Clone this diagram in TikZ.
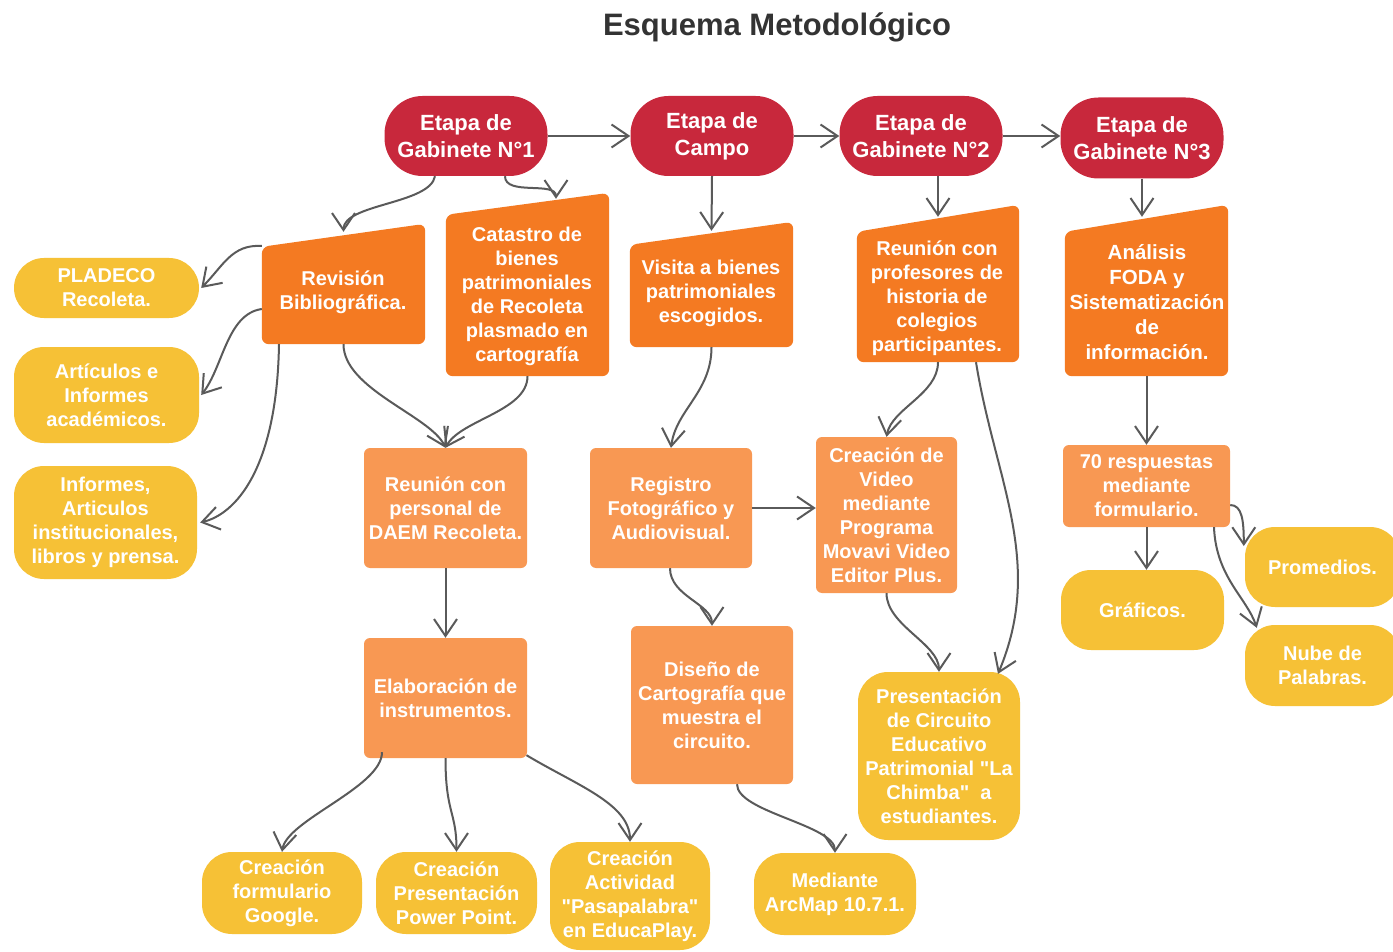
\documentclass[tikz,border=0pt]{standalone}
\usepackage{fontspec}
\setmainfont{Liberation Sans}[Ligatures=TeXOff]
\usetikzlibrary{arrows.meta,calc}
\definecolor{cred}{HTML}{C8283C}
\definecolor{corange}{HTML}{F47A22}
\definecolor{clight}{HTML}{F89853}
\definecolor{cyellow}{HTML}{F6C136}
\definecolor{cline}{HTML}{5A5A5A}
\definecolor{ctitle}{HTML}{333333}
\begin{document}
\begin{tikzpicture}[x=1pt,y=-1pt,
  txt/.style={text=white, font=\fontsize{20}{24}\selectfont\bfseries, align=center, inner sep=0pt},
  stage/.style={txt, fill=cred, rounded corners=38pt, minimum width=163pt, minimum height=80pt, font=\fontsize{22}{27}\selectfont\bfseries},
  trapbox/.style={inner sep=0pt, draw=none},
  trapfill/.style={fill=corange, rounded corners=7pt},
  lobox/.style={txt, fill=clight, rounded corners=6pt},
  ybox/.style={txt, fill=cyellow, rounded corners=30pt},
  conn/.style={draw=cline, line width=2pt, -{Straight Barb[length=17pt,width=23pt]}},
]
\fill[white] (0,0) rectangle (1393,952);
\useasboundingbox (0,0) rectangle (1393,952);

\node[font=\fontsize{31}{37}\selectfont\bfseries, text=ctitle] (title) at (777,27) {Esquema Metodológico};

% stages
\node[stage] (e1) at (466,136) {Etapa de\\Gabinete N°1};
\node[stage] (e2) at (712,136) {Etapa de\\Campo};
\node[stage] (e3) at (921,136) {Etapa de\\Gabinete N°2};
\node[stage, minimum height=81pt] (e4) at (1142,138) {Etapa de\\Gabinete N°3};

% trapezoid nodes
\node[trapbox, minimum width=163pt, minimum height=120pt] (rev) at (343.5,284) {};
\fill[trapfill] (rev.south west) -- ([yshift=-23pt]rev.north west) -- (rev.north east) -- (rev.south east) -- cycle;
\node[txt] (revt) at (343,292) {Revisión\\Bibliográfica.};

\node[trapbox, minimum width=163pt, minimum height=183pt] (cat) at (527.5,284.5) {};
\fill[trapfill] (cat.south west) -- ([yshift=-22pt]cat.north west) -- (cat.north east) -- (cat.south east) -- cycle;
\node[txt] (catt) at (527,296) {Catastro de\\bienes\\patrimoniales\\de Recoleta\\plasmado en\\cartografía};

\node[trapbox, minimum width=163pt, minimum height=125pt] (vis) at (711.5,284.5) {};
\fill[trapfill] (vis.south west) -- ([yshift=-23pt]vis.north west) -- (vis.north east) -- (vis.south east) -- cycle;
\node[txt] (vist) at (711,293) {Visita a bienes\\patrimoniales\\escogidos.};

\node[trapbox, minimum width=162pt, minimum height=157pt] (rpr) at (938,283.5) {};
\fill[trapfill] (rpr.south west) -- ([yshift=-27pt]rpr.north west) -- (rpr.north east) -- (rpr.south east) -- cycle;
\node[txt] (rprt) at (937,298) {Reunión con\\profesores de\\historia de\\colegios\\participantes.};

\node[trapbox, minimum width=163pt, minimum height=171pt] (ana) at (1146.5,290.5) {};
\fill[trapfill] (ana.south west) -- ([yshift=-27pt]ana.north west) -- (ana.north east) -- (ana.south east) -- cycle;
\node[txt, font=\fontsize{20.5}{25}\selectfont\bfseries] (anat) at (1147,302) {Análisis\\FODA y\\Sistematización\\de\\información.};

% light orange boxes
\node[lobox, minimum width=163pt, minimum height=120pt] (daem) at (445.5,508) {Reunión con\\personal de\\DAEM Recoleta.};
\node[lobox, minimum width=162pt, minimum height=120pt] (reg) at (671,508) {Registro\\Fotográfico y\\Audiovisual.};
\node[lobox, minimum width=141pt, minimum height=156pt] (vid) at (886.5,515) {Creación de\\Video\\mediante\\Programa\\Movavi Video\\Editor Plus.};
\node[lobox, minimum width=163pt, minimum height=120pt] (ela) at (445.5,698) {Elaboración de\\instrumentos.};
\node[lobox, minimum width=162pt, minimum height=158pt] (dis) at (712,705) {Diseño de\\Cartografía que\\muestra el\\circuito.};
\node[lobox, minimum width=167pt, minimum height=82pt] (r70) at (1146.5,486) {70 respuestas\\mediante\\formulario.};

% yellow nodes
\node[ybox, minimum width=185pt, minimum height=60pt] (pla) at (106.5,288) {PLADECO\\Recoleta.};
\node[ybox, minimum width=185pt, minimum height=96pt] (art) at (106.5,395) {Artículos e\\Informes\\académicos.};
\node[ybox, minimum width=183pt, minimum height=113pt] (inf) at (105.5,522.5) {Informes,\\Articulos\\institucionales,\\libros y prensa.};
\node[ybox, minimum width=160pt, minimum height=82pt] (cfg) at (282,893) {Creación\\formulario\\Google.};
\node[ybox, minimum width=161pt, minimum height=82pt] (cpp) at (456.5,893) {Creación\\Presentación\\Power Point.};
\node[ybox, minimum width=160pt, minimum height=108pt] (cae) at (630,896) {Creación\\Actividad\\"Pasapalabra"\\en EducaPlay.};
\node[ybox, minimum width=162pt, minimum height=82pt] (arc) at (835,894) {Mediante\\ArcMap 10.7.1.};
\node[ybox, minimum width=162pt, minimum height=168pt] (pre) at (939,756) {Presentación\\de Circuito\\Educativo\\Patrimonial "La\\Chimba"\ \ a\\estudiantes.};
\node[ybox, minimum width=163pt, minimum height=80pt] (gra) at (1142.5,610) {Gráficos.};
\node[ybox, minimum width=155pt, minimum height=80pt] (prm) at (1322.5,567) {Promedios.};
\node[ybox, minimum width=155pt, minimum height=81pt] (nub) at (1322.5,665.5) {Nube de\\Palabras.};

% connectors
\draw[conn] (e1.east) -- (e2.west);
\draw[conn] (e2.east) -- (e3.west);
\draw[conn] (e3.east) -- (e3.east -| e4.west);
\draw[conn] ([xshift=-31pt]e1.south) .. controls +(-5,28) and +(0,-28) .. ([yshift=-8pt]rev.north);
\draw[conn] ([xshift=39pt]e1.south) .. controls +(0,20) and +(0,-18) .. ([xshift=28.5pt,yshift=-6pt]cat.north);
\draw[conn] (e2.south) -- ([yshift=-9pt]vis.north);
\draw[conn] ([xshift=17pt]e3.south) -- ([yshift=-12pt]rpr.north);
\draw[conn] (e4.south) -- ([xshift=-4.5pt,yshift=-12pt]ana.north);

\draw[conn] ([yshift=38pt]rev.west) .. controls +(-30,-2) and +(22,-22) .. ([xshift=2pt]pla.east);
\draw[conn] ([yshift=-25pt]rev.west) .. controls +(-35,5) and +(22,-28) .. ([xshift=2pt]art.east);
\draw[conn] ([xshift=-64.5pt]rev.south) .. controls +(-2,125) and +(35,-8) .. ([xshift=3pt]inf.east);
\draw[conn] (rev.south) .. controls +(0,45) and +(-15,-32) .. (daem.north);
\draw[conn] (cat.south) .. controls +(0,35) and +(15,-28) .. (daem.north);
\draw[conn] (vis.south) .. controls +(0,45) and +(5,-38) .. (reg.north);
\draw[conn] (rpr.south) .. controls +(0,32) and +(5,-28) .. (vid.north);
\draw[conn] ([xshift=38pt]rpr.south) .. controls +(19,118) and +(47,-112) .. ([xshift=59pt,yshift=-2pt]pre.north);
\draw[conn] (reg.east) -- (reg.east -| vid.west);
\draw[conn] ([xshift=-1pt]reg.south) .. controls +(0,28) and +(0,-22) .. (dis.north);
\draw[conn] (vid.south) .. controls +(0,32) and +(0,-28) .. (pre.north);
\draw[conn] (daem.south) -- (ela.north);
\draw[conn] ([xshift=-63.5pt,yshift=6pt]ela.south) .. controls +(0,35) and +(5,-32) .. (cfg.north);
\draw[conn] (ela.south) .. controls +(0,55) and +(0,-40) .. (cpp.north);
\draw[conn] ([xshift=81pt,yshift=3pt]ela.south) .. controls +(50,30) and +(0,-38) .. (cae.north);
\draw[conn] ([xshift=25pt]dis.south) .. controls +(0,28) and +(0,-28) .. (arc.north);
\draw[conn] (ana.south) -- (r70.north);
\draw[conn] (r70.south) -- (r70.south |- gra.north);
\draw[conn] ([yshift=-19pt]r70.east) .. controls +(12,0) and +(0,-25) .. ([xshift=-1pt,yshift=21pt]prm.west);
\draw[conn] ([xshift=67.5pt]r70.south) .. controls +(2,50) and +(-10,-30) .. ([xshift=12pt,yshift=-3pt]nub.north west);
\end{tikzpicture}
\end{document}
